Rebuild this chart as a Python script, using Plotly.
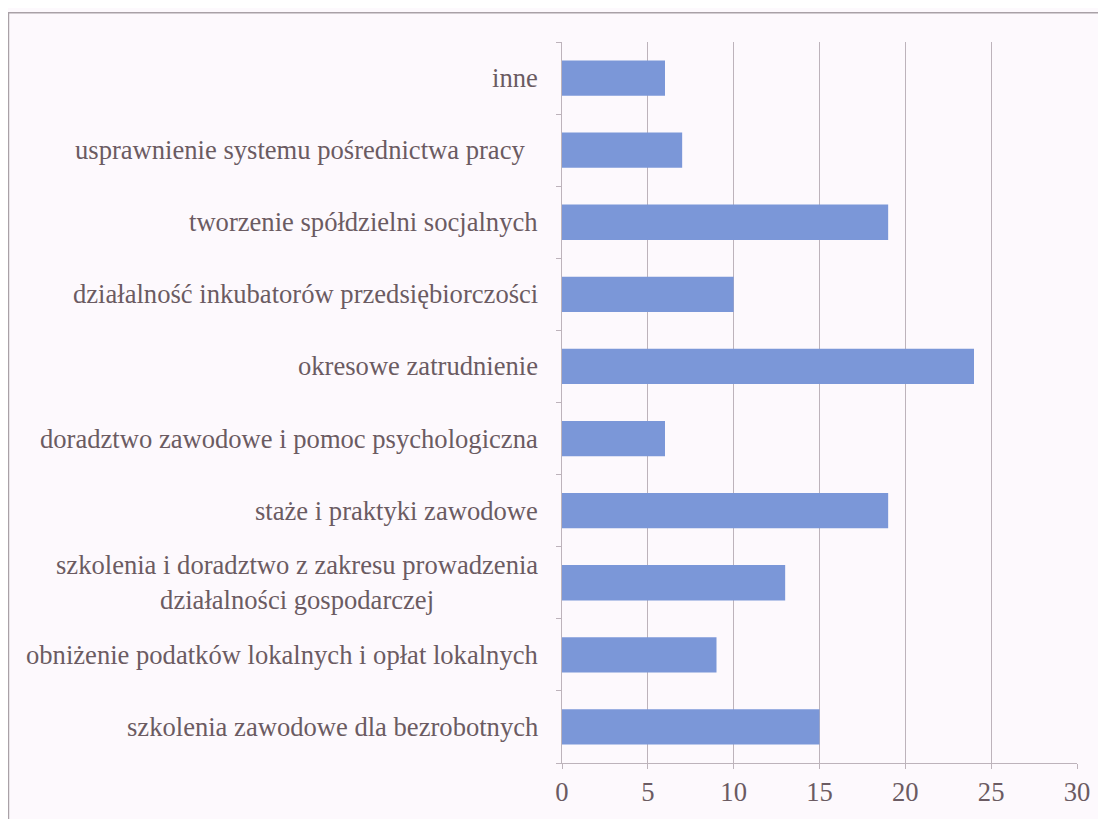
import plotly.graph_objects as go

CATEGORIES = [
    "szkolenia zawodowe dla bezrobotnych",
    "obniżenie podatków lokalnych i opłat lokalnych",
    "szkolenia i doradztwo z zakresu prowadzenia<br>działalności gospodarczej",
    "staże i praktyki zawodowe",
    "doradztwo zawodowe i pomoc psychologiczna",
    "okresowe zatrudnienie",
    "działalność inkubatorów przedsiębiorczości",
    "tworzenie spółdzielni socjalnych",
    "usprawnienie systemu pośrednictwa pracy\u00a0\u00a0",
    "inne",
]
VALUES = [15, 9, 13, 19, 6, 24, 10, 19, 7, 6]
X_TICKS = [0, 5, 10, 15, 20, 25, 30]

BAR_COLOR = "#7b97d8"
TEXT_COLOR = "#6b5b62"
GRID_COLOR = "#bdb3bb"
BG = "#fdf9fd"
FONT = "Times New Roman"
FONT_SIZE = 26.6

fig = go.Figure(
    go.Bar(
        x=VALUES,
        y=list(range(len(CATEGORIES))),
        orientation="h",
        marker={"color": BAR_COLOR, "line": {"width": 0}},
        width=0.49,
        hoverinfo="x",
    )
)

# category labels as annotations so the wrapped one stays centred
for i, label in enumerate(CATEGORIES):
    fig.add_annotation(
        x=0,
        xref="paper",
        y=i,
        yref="y",
        text=label,
        showarrow=False,
        xanchor="right",
        xshift=-22,
        align="center",
        font={"family": FONT, "size": FONT_SIZE, "color": TEXT_COLOR},
    )

# outer chart frame
fig.add_shape(
    type="rect",
    xref="paper",
    yref="paper",
    x0=-1.0748,
    x1=1.2,
    y0=-0.2,
    y1=1.0405,
    line={"color": "#a9a1a7", "width": 1.5},
    fillcolor="rgba(0,0,0,0)",
    layer="below",
)

fig.update_layout(
    width=1098,
    height=811,
    margin={"l": 554, "r": 29, "t": 34, "b": 54},
    paper_bgcolor=BG,
    plot_bgcolor=BG,
    showlegend=False,
    font={"family": FONT, "size": FONT_SIZE, "color": TEXT_COLOR},
)
fig.update_xaxes(
    range=[0, 30],
    tickvals=X_TICKS,
    showgrid=True,
    gridcolor=GRID_COLOR,
    gridwidth=1,
    zeroline=False,
    showline=True,
    linecolor=GRID_COLOR,
    ticks="outside",
    ticklen=5,
    tickcolor=GRID_COLOR,
    tickfont={"family": FONT, "size": FONT_SIZE, "color": TEXT_COLOR},
    fixedrange=True,
)
fig.update_yaxes(
    range=[-0.5, len(CATEGORIES) - 0.5],
    tickvals=[i - 0.5 for i in range(len(CATEGORIES) + 1)],
    ticktext=[""] * (len(CATEGORIES) + 1),
    showgrid=False,
    zeroline=False,
    showline=True,
    linecolor=GRID_COLOR,
    ticks="outside",
    ticklen=5,
    tickcolor=GRID_COLOR,
    fixedrange=True,
)

fig.write_html("out.html")
